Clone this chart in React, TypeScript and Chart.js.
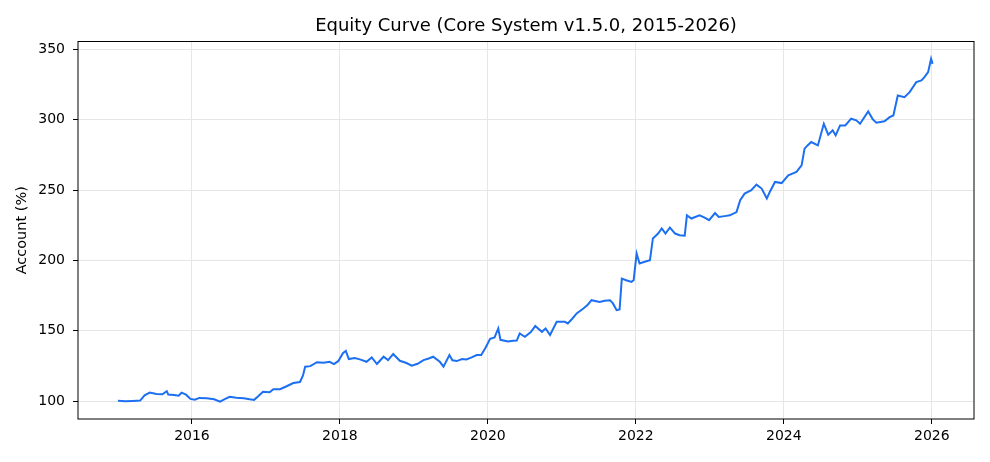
import { useEffect, useRef } from 'react';
import Chart from 'chart.js/auto';

// decimal years
const dates = [
  2015.00, 2015.10, 2015.20, 2015.30, 2015.36, 2015.43, 2015.52, 2015.60, 2015.66, 2015.68,
  2015.76, 2015.82, 2015.86, 2015.92, 2015.98, 2016.04, 2016.10, 2016.20, 2016.30, 2016.38,
  2016.45, 2016.51, 2016.60, 2016.70, 2016.78, 2016.84, 2016.90, 2016.96, 2017.05, 2017.10,
  2017.19, 2017.28, 2017.37, 2017.46, 2017.50, 2017.53, 2017.60, 2017.69, 2017.78, 2017.86,
  2017.92, 2017.98, 2018.04, 2018.08, 2018.12, 2018.20, 2018.27, 2018.36, 2018.43, 2018.50,
  2018.59, 2018.65, 2018.72, 2018.81, 2018.90, 2018.97, 2019.05, 2019.13, 2019.20, 2019.26,
  2019.35, 2019.40, 2019.48, 2019.52, 2019.58, 2019.65, 2019.71, 2019.78, 2019.85, 2019.91,
  2019.97, 2020.03, 2020.09, 2020.14, 2020.17, 2020.27, 2020.34, 2020.39, 2020.43, 2020.50,
  2020.58, 2020.64, 2020.73, 2020.78, 2020.84, 2020.93, 2021.04, 2021.08, 2021.14, 2021.20,
  2021.29, 2021.35, 2021.40, 2021.51, 2021.58, 2021.65, 2021.69, 2021.74, 2021.78, 2021.81,
  2021.87, 2021.94, 2021.97, 2022.01, 2022.05, 2022.12, 2022.19, 2022.23, 2022.30, 2022.35,
  2022.40, 2022.46, 2022.53, 2022.59, 2022.66, 2022.69, 2022.75, 2022.86, 2022.93, 2022.99,
  2023.07, 2023.12, 2023.20, 2023.27, 2023.36, 2023.41, 2023.47, 2023.56, 2023.63, 2023.70,
  2023.77, 2023.81, 2023.88, 2023.97, 2024.06, 2024.17, 2024.24, 2024.28, 2024.32, 2024.37,
  2024.46, 2024.54, 2024.60, 2024.66, 2024.70, 2024.76, 2024.83, 2024.91, 2024.98, 2025.03,
  2025.14, 2025.20, 2025.25, 2025.36, 2025.43, 2025.48, 2025.54, 2025.63, 2025.70, 2025.79,
  2025.86, 2025.90, 2025.95, 2025.99, 2026.01,
];

// account value in %
const equity = [
  100.2, 99.8, 100.0, 100.3, 104.0, 106.0, 105.0, 104.8, 107.0, 104.6,
  104.2, 103.8, 105.9, 104.5, 101.5, 100.9, 102.2, 102.0, 101.2, 99.5,
  101.5, 103.0, 102.3, 102.0, 101.2, 100.8, 103.5, 106.6, 106.2, 108.3,
  108.4, 110.5, 112.8, 113.5, 118.0, 124.4, 124.8, 127.6, 127.2, 127.9,
  126.3, 128.5, 134.0, 135.7, 129.8, 130.5, 129.6, 127.9, 131.0, 126.3,
  131.5, 129.1, 133.4, 128.6, 127.0, 125.1, 126.5, 129.1, 130.2, 131.5,
  127.9, 124.4, 132.7, 129.0, 128.4, 129.8, 129.6, 131.0, 132.7, 132.7,
  138.0, 144.2, 145.2, 151.6, 143.5, 142.3, 142.8, 143.0, 148.1, 145.7,
  149.0, 153.3, 149.2, 151.6, 146.9, 156.3, 156.3, 155.2, 158.5, 162.3,
  165.8, 168.5, 171.7, 170.5, 171.3, 171.7, 169.4, 164.6, 165.1, 187.1,
  185.9, 184.7, 185.9, 204.9, 197.8, 199.0, 200.1, 215.6, 219.1, 222.7,
  219.1, 223.4, 219.1, 217.9, 217.6, 232.1, 229.8, 232.1, 230.5, 228.6,
  233.7, 230.9, 231.5, 232.1, 234.4, 242.8, 247.5, 249.9, 253.9, 251.1,
  244.0, 248.7, 255.8, 255.0, 260.5, 262.9, 267.6, 279.5, 281.8, 284.2,
  281.8, 297.2, 289.4, 292.5, 288.9, 296.0, 296.0, 300.8, 299.6, 297.2,
  306.0, 300.5, 297.9, 298.9, 301.9, 303.1, 317.3, 316.1, 319.7, 326.8,
  328.0, 330.3, 333.9, 343.4, 339.8,
];

const xTicks = [2016, 2018, 2020, 2022, 2024, 2026];
const yTicks = [100, 150, 200, 250, 300, 350];
const titleText = 'Equity Curve (Core System v1.5.0, 2015-2026)';

// box round the plot area plus a title centred over it (matplotlib style)
const frameBox = {
  id: 'frameBox',
  afterDraw(chart: any) {
    const { ctx, chartArea } = chart;
    ctx.save();
    ctx.strokeStyle = '#000';
    ctx.lineWidth = 1;
    ctx.strokeRect(chartArea.left, chartArea.top, chartArea.right - chartArea.left, chartArea.bottom - chartArea.top);
    ctx.fillStyle = '#000';
    ctx.font = '18px "DejaVu Sans", sans-serif';
    ctx.textAlign = 'center';
    ctx.textBaseline = 'middle';
    ctx.fillText(titleText, (chartArea.left + chartArea.right) / 2, 26);
    ctx.restore();
  },
};

const App = () => {
  const chartRef = useRef<HTMLCanvasElement | null>(null);

  useEffect(() => {
    document.body.style.margin = '0';
    if (!chartRef.current) return;
    const ctx = chartRef.current.getContext('2d');
    if (!ctx) return;

    Chart.defaults.font.family = '"DejaVu Sans", sans-serif';
    Chart.defaults.color = '#000';

    const chart = new Chart(ctx, {
      type: 'line',
      data: {
        datasets: [{
          label: 'Equity',
          data: dates.map((d, i) => ({ x: d, y: equity[i] })),
          borderColor: '#1c6ff0',
          borderWidth: 2,
          pointRadius: 0,
          tension: 0,
          fill: false,
        }],
      },
      options: {
        animation: false,
        responsive: false,
        layout: { padding: { left: 0, right: 16, top: 41.5, bottom: 0 } },
        plugins: {
          legend: { display: false },
          tooltip: { enabled: false },
          title: { display: false },
        },
        scales: {
          x: {
            type: 'linear',
            min: 2014.46,
            max: 2026.57,
            afterBuildTicks: (scale: any) => { scale.ticks = xTicks.map(v => ({ value: v })); },
            afterFit: (scale: any) => { scale.height = 43; },
            grid: { color: '#e6e6e6', tickColor: '#000', tickLength: 5 },
            border: { display: false },
            ticks: { font: { size: 14 }, padding: 4, maxRotation: 0, callback: (v: any) => String(v) },
          },
          y: {
            min: 87.2,
            max: 355.7,
            afterBuildTicks: (scale: any) => { scale.ticks = yTicks.map(v => ({ value: v })); },
            afterFit: (scale: any) => { scale.width = 78; },
            grid: { color: '#e6e6e6', tickColor: '#000', tickLength: 5 },
            border: { display: false },
            ticks: { font: { size: 14 }, padding: 8, callback: (v: any) => String(v) },
            title: { display: true, text: 'Account (%)', font: { size: 14.5 }, padding: { top: 14, bottom: 0 } },
          },
        },
      },
      plugins: [frameBox],
    });

    return () => {
      chart.destroy();
    };
  }, []);

  return (
    <div style={{ width: 990, height: 462 }}>
      <canvas ref={chartRef} width={990} height={462}></canvas>
    </div>
  );
};

export default App;
